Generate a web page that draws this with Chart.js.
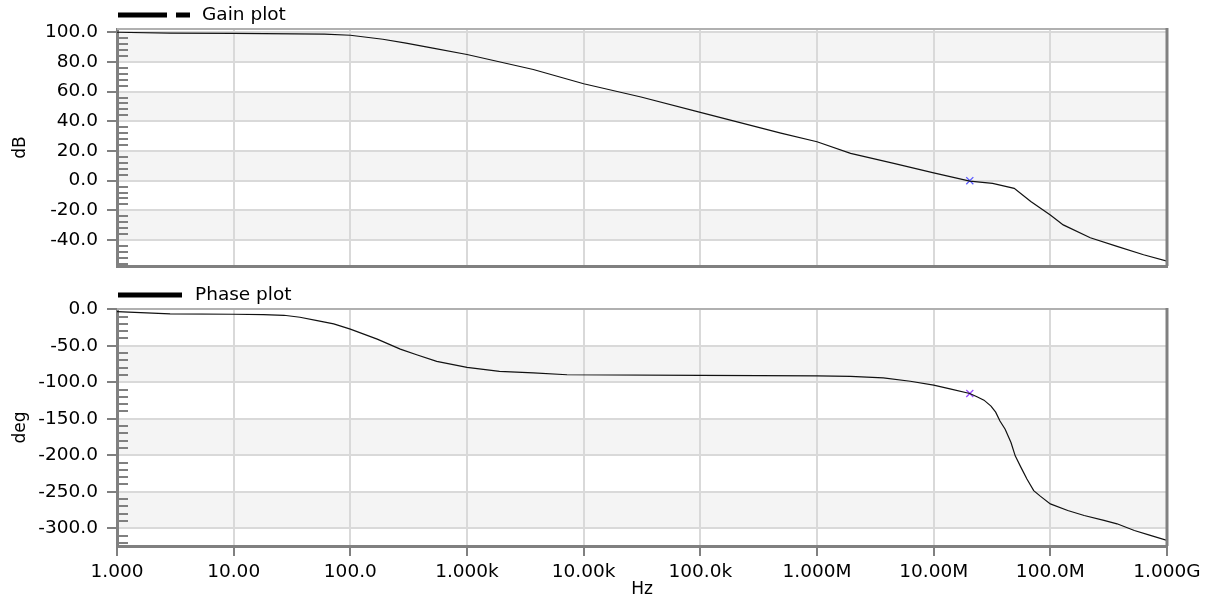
<!DOCTYPE html>
<html lang="en">
<head>
<meta charset="UTF-8">
<title>Gain / Phase plot</title>
<script src="https://cdn.jsdelivr.net/npm/chart.js@4.4.1/dist/chart.umd.min.js"></script>
<style>
    body { margin: 0; background: white; }
    .wrap { position: relative; width: 1212px; height: 603px; }
    #gainChart { position: absolute; left: 0; top: 0; }
    #phaseChart { position: absolute; left: 0; top: 280px; }
</style>
</head>
<body>
<div class="wrap">
    <canvas id="gainChart" width="1212" height="290"></canvas>
    <canvas id="phaseChart" width="1212" height="323"></canvas>
</div>
<script>
// axis ticks
const freqTicks = [1, 10, 100, 1e3, 1e4, 1e5, 1e6, 1e7, 1e8, 1e9];
const freqLabels = ['1.000', '10.00', '100.0', '1.000k', '10.00k', '100.0k', '1.000M', '10.00M', '100.0M', '1.000G'];
const gainTicks = [100, 80, 60, 40, 20, 0, -20, -40];
const phaseTicks = [0, -50, -100, -150, -200, -250, -300];

// gain curve (Hz, dB)
const gainFreq = [1, 2.85, 10, 60, 100, 190, 300, 510, 1000, 3700, 1e4, 3.1e4, 1e5, 4.9e5, 1e6, 1.94e6,
                  4.55e6, 1e7, 2.04e7, 3.2e7, 4.9e7, 6.8e7, 1e8, 1.29e8, 2.2e8, 3.73e8, 6.3e8, 1e9];
const gainDb = [100.0, 99.4, 99.2, 98.7, 98.0, 95.3, 92.7, 89.3, 85.0, 74.9, 65.3, 56.4, 46.0, 32.0, 26.2, 18.4,
                11.7, 5.2, -0.3, -1.8, -5.2, -14.1, -23.2, -29.8, -38.5, -44.3, -49.9, -54.2];

// phase curve (Hz, deg)
const phaseFreq = [1, 2.85, 10, 18, 27, 37, 52, 72, 100, 170, 268, 370, 550, 1000, 1900, 3700, 7200,
                   1e5, 1e6, 1.94e6, 3.7e6, 6.3e6, 1e7, 1.38e7, 2.04e7, 2.35e7, 2.7e7, 3.1e7, 3.4e7, 3.7e7,
                   4.1e7, 4.6e7, 5.0e7, 5.6e7, 6.3e7, 7.2e7, 8.2e7, 1e8, 1.41e8, 1.95e8, 2.88e8, 3.73e8,
                   5.25e8, 7.2e8, 1e9];
const phaseDeg = [-3.2, -6.4, -6.8, -7.3, -8.2, -10.9, -15.5, -20.0, -27.2, -40.9, -54.5, -62.3, -71.4, -79.5,
                  -85.0, -87.2, -89.7, -90.5, -91.2, -92.0, -94.0, -98.6, -104.0, -109.0, -115.4, -119.9,
                  -124.5, -132.7, -140.9, -153.0, -164.4, -182.6, -200.8, -216.6, -232.5, -248.5, -256.0,
                  -266.6, -275.7, -282.5, -289.3, -293.9, -303.0, -309.8, -316.6];

// cursor
const cursorFreq = [2.04e7];
const cursorGain = [0];
const cursorPhase = [-115.4];

const FONT = 'DejaVu Sans';

function pts(xs, ys) {
    return xs.map((x, i) => ({ x: x, y: ys[i] }));
}

// bands, minor ticks, frame and legend
const framePlugin = {
    id: 'frame',
    beforeDraw(chart, args, opts) {
        const ctx = chart.ctx, a = chart.chartArea, y = chart.scales.y;
        const step = opts.step;
        ctx.save();
        ctx.fillStyle = '#f4f4f4';
        for (let k = Math.floor(y.min / step); k * step < y.max; k++) {
            if (Math.abs((k + 1) % 2) !== 1) continue;
            const top = Math.max(a.top, y.getPixelForValue((k + 1) * step));
            const bot = Math.min(a.bottom, y.getPixelForValue(k * step));
            if (bot > top) ctx.fillRect(a.left, top, a.right - a.left, bot - top);
        }
        ctx.restore();
    },
    afterDraw(chart, args, opts) {
        const ctx = chart.ctx, a = chart.chartArea, y = chart.scales.y;
        const minor = opts.step / 5;
        ctx.save();
        // minor ticks
        ctx.strokeStyle = '#808080';
        ctx.lineWidth = 2;
        ctx.beginPath();
        for (let k = Math.ceil(y.min / minor); k * minor <= y.max; k++) {
            if (k % 5 === 0) continue;
            const py = Math.round(y.getPixelForValue(k * minor));
            ctx.moveTo(a.left, py);
            ctx.lineTo(a.left + 11, py);
        }
        ctx.stroke();
        // top and right border
        ctx.strokeStyle = '#b0b0b0';
        ctx.lineWidth = 2;
        ctx.beginPath();
        ctx.moveTo(a.left, a.top);
        ctx.lineTo(a.right, a.top);
        ctx.stroke();
        ctx.strokeStyle = '#808080';
        ctx.lineWidth = 3;
        ctx.beginPath();
        ctx.moveTo(a.right, a.top - 1);
        ctx.lineTo(a.right, a.bottom);
        ctx.stroke();
        // legend
        ctx.strokeStyle = '#000';
        ctx.lineWidth = 5;
        ctx.beginPath();
        opts.legendLine.forEach(seg => {
            ctx.moveTo(seg[0], 15);
            ctx.lineTo(seg[1], 15);
        });
        ctx.stroke();
        ctx.fillStyle = '#000';
        ctx.font = '18.5px "' + FONT + '"';
        ctx.textBaseline = 'middle';
        ctx.fillText(opts.legendText, opts.legendX, 15);
        ctx.restore();
    }
};

function makeOptions(cfg) {
    return {
        responsive: false,
        animation: false,
        events: [],
        layout: { autoPadding: false, padding: { top: 29, right: 45, left: 0, bottom: 0 } },
        plugins: {
            legend: { display: false },
            tooltip: { enabled: false },
            frame: cfg.frame
        },
        scales: {
            x: {
                type: 'logarithmic',
                min: 1,
                max: 1e9,
                afterBuildTicks: s => { s.ticks = freqTicks.map(v => ({ value: v })); },
                afterFit: s => { s.height = cfg.xHeight; },
                ticks: {
                    display: cfg.xLabels,
                    autoSkip: false,
                    maxRotation: 0,
                    padding: 5,
                    color: '#000',
                    font: { family: FONT, size: 18.5 },
                    callback: (v, i) => freqLabels[i]
                },
                grid: {
                    color: '#d9d9d9',
                    lineWidth: 2,
                    drawTicks: cfg.xLabels,
                    tickLength: 10,
                    tickColor: '#808080',
                    tickWidth: 2
                },
                border: { color: '#808080', width: 3 },
                title: {
                    display: cfg.xLabels,
                    text: 'Hz',
                    color: '#000',
                    font: { family: FONT, size: 17 },
                    padding: { top: 0, bottom: 3 }
                }
            },
            y: {
                min: cfg.yMin,
                max: cfg.yMax,
                afterBuildTicks: s => { s.ticks = cfg.yTicks.map(v => ({ value: v })); },
                afterFit: s => { s.width = 117; },
                ticks: {
                    padding: 9,
                    color: '#000',
                    font: { family: FONT, size: 18.5 },
                    callback: v => v.toFixed(1)
                },
                grid: {
                    color: '#d9d9d9',
                    lineWidth: 2,
                    tickLength: 10,
                    tickColor: '#808080',
                    tickWidth: 2
                },
                border: { color: '#808080', width: 3 },
                title: {
                    display: true,
                    text: cfg.yTitle,
                    color: '#000',
                    font: { family: FONT, size: 17 },
                    padding: { top: 10, bottom: 0 }
                }
            }
        }
    };
}

new Chart(document.getElementById('gainChart'), {
    type: 'line',
    data: {
        datasets: [{
            data: pts(gainFreq, gainDb),
            borderColor: '#111',
            borderWidth: 1.2,
            pointRadius: 0,
            tension: 0
        }, {
            data: pts(cursorFreq, cursorGain),
            showLine: false,
            pointStyle: 'crossRot',
            pointRadius: 5,
            borderColor: '#5a5aff',
            borderWidth: 1.3
        }]
    },
    options: makeOptions({
        xHeight: 24, xLabels: false,
        yMin: -57.5, yMax: 102.2, yTicks: gainTicks, yTitle: 'dB',
        frame: { step: 20, legendLine: [[118, 167], [176, 190]], legendText: 'Gain plot', legendX: 202 }
    }),
    plugins: [framePlugin]
});

new Chart(document.getElementById('phaseChart'), {
    type: 'line',
    data: {
        datasets: [{
            data: pts(phaseFreq, phaseDeg),
            borderColor: '#111',
            borderWidth: 1.2,
            pointRadius: 0,
            tension: 0
        }, {
            data: pts(cursorFreq, cursorPhase),
            showLine: false,
            pointStyle: 'crossRot',
            pointRadius: 5,
            borderColor: '#9a4cff',
            borderWidth: 1.3
        }]
    },
    options: makeOptions({
        xHeight: 57, xLabels: true,
        yMin: -324.3, yMax: 0.4, yTicks: phaseTicks, yTitle: 'deg',
        frame: { step: 50, legendLine: [[118, 182]], legendText: 'Phase plot', legendX: 195 }
    }),
    plugins: [framePlugin]
});
</script>
</body>
</html>
